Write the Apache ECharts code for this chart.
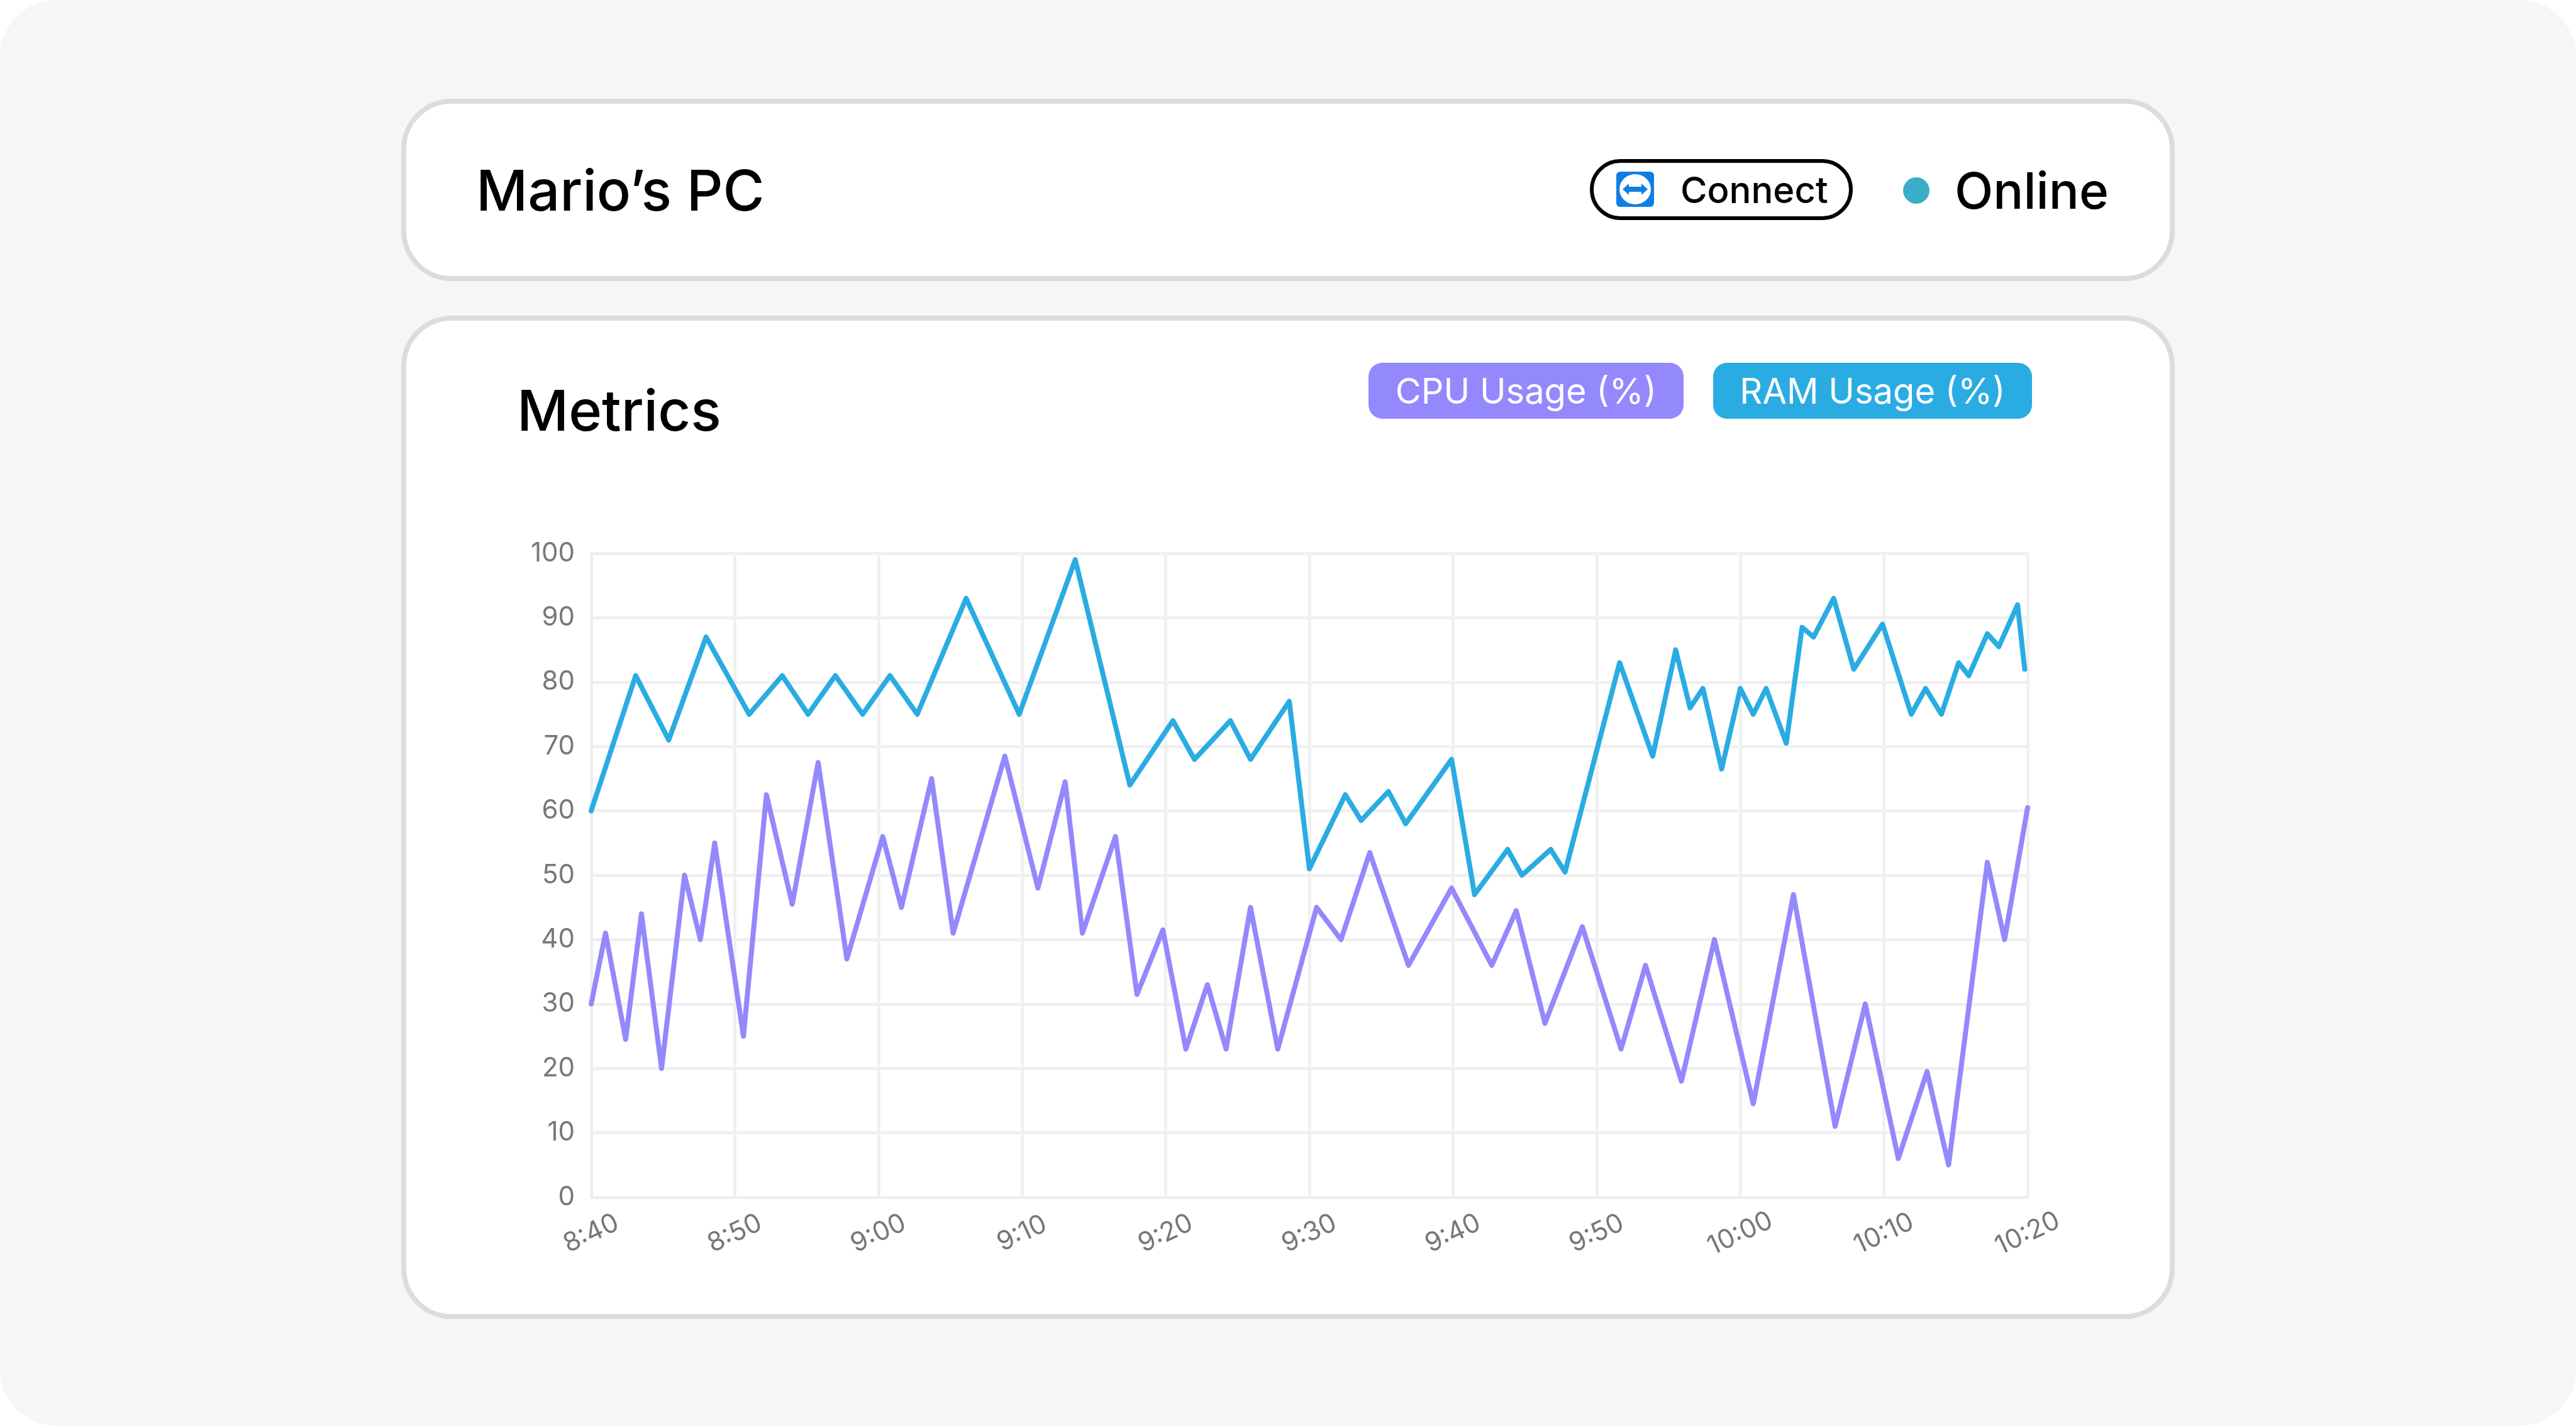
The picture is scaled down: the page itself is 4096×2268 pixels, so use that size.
<!DOCTYPE html>
<html><head><meta charset="utf-8">
<script src="https://cdn.jsdelivr.net/npm/echarts@6/dist/echarts.min.js"></script>
<style>
html,body{margin:0;padding:0;width:4096px;height:2268px;background:#fff;font-family:Inter,"Noto Sans",sans-serif;overflow:hidden}
#bg{position:absolute;left:0;top:0;width:4096px;height:2268px;background:#f6f6f6;border-radius:90px}
.card{position:absolute;background:#fff;border:8px solid #dcdcdc;border-radius:80px;box-sizing:border-box}
.t{position:absolute;white-space:nowrap;color:#000}
#chart{position:absolute;left:0;top:0;width:4096px;height:2268px}
.pill{position:absolute;border-radius:22px;color:#fff;font-size:56px;display:flex;align-items:center;justify-content:center}
</style></head><body>
<div id="bg"></div>
<div class="card" style="left:638px;top:157px;width:2820px;height:290px"></div>
<div class="card" style="left:638px;top:502px;width:2820px;height:1596px"></div>
<div class="t" style="left:757px;top:248px;font-size:90px;font-weight:500">Mario’s PC</div>
<div style="position:absolute;left:2528px;top:253px;width:418px;height:97px;border:6px solid #000;border-radius:50px;box-sizing:border-box"></div>
<svg style="position:absolute;left:2570px;top:273px" width="60" height="56" viewBox="0 0 60 56">
<rect x="0" y="0" width="60" height="56" rx="6" fill="#0e7fe0"/>
<ellipse cx="30" cy="28" rx="25" ry="24" fill="#fff"/>
<path d="M10 28 L20 19 L20 24 L40 24 L40 19 L50 28 L40 37 L40 32 L20 32 L20 37 Z" fill="#0e7fe0"/>
</svg>
<div class="t" style="left:2672px;top:267px;font-size:58px;font-weight:500">Connect</div>
<div style="position:absolute;left:3026px;top:282px;width:42px;height:42px;border-radius:50%;background:#3aaec8"></div>
<div class="t" style="left:3108px;top:254px;font-size:80px;font-weight:500">Online</div>
<div class="t" style="left:822px;top:598px;font-size:90px;font-weight:500">Metrics</div>
<div class="pill" style="left:2176px;top:577px;width:501px;height:89px;background:#9488fd">CPU Usage (%)</div>
<div class="pill" style="left:2724px;top:577px;width:507px;height:89px;background:#2aace2">RAM Usage (%)</div>
<div id="chart"></div>
<script>
const tickLabels = ["8:40","8:50","9:00","9:10","9:20","9:30","9:40","9:50","10:00","10:10","10:20"];
const ramTimes = [0,3.1,5.4,8,11,13.3,15.1,17,18.9,20.8,22.7,26.1,29.8,33.7,37.5,40.5,42,44.5,45.9,48.6,50,52.5,53.6,55.5,56.7,59.9,61.5,63.8,64.8,66.8,67.8,71.6,73.9,75.5,76.5,77.4,78.7,80,80.9,81.8,83.2,84.3,85.1,86.5,87.9,89.9,91.9,92.9,94,95.2,95.9,97.2,98,99.3,99.8];
const ramValues = [60,81,71,87,75,81,75,81,75,81,75,93,75,99,64,74,68,74,68,77,51,62.5,58.5,63,58,68,47,54,50,54,50.5,83,68.5,85,76,79,66.5,79,75,79,70.5,88.5,87,93,82,89,75,79,75,83,81,87.5,85.5,92,82];
const cpuTimes = [0,1,2.4,3.5,4.9,6.5,7.6,8.6,10.6,12.2,14,15.8,17.8,20.3,21.6,23.7,25.2,28.8,31.1,33,34.2,36.5,38,39.8,41.4,42.9,44.2,45.9,47.8,50.5,52.2,54.2,56.9,59.9,62.7,64.4,66.4,69,71.7,73.4,75.9,78.2,80.9,83.7,86.6,88.7,91,93,94.5,97.2,98.4,100];
const cpuValues = [30,41,24.5,44,20,50,40,55,25,62.5,45.5,67.5,37,56,45,65,41,68.5,48,64.5,41,56,31.5,41.5,23,33,23,45,23,45,40,53.5,36,48,36,44.5,27,42,23,36,18,40,14.5,47,11,30,6,19.5,5,52,40,60.5];
const pair = (t, v) => t.map((x, i) => [x, v[i]]);
const chart = echarts.init(document.getElementById('chart'));
chart.setOption({
  animation:false,
  grid:{left:940,right:872,top:880,bottom:364,show:false},
  xAxis:{type:'value',min:0,max:100,interval:10,
    axisLine:{lineStyle:{color:'#eeeeee',width:5}},axisTick:{show:false},
    splitLine:{show:true,lineStyle:{color:'#f0f0f0',width:5}},
    axisLabel:{rotate:25,align:'center',verticalAlign:'middle',color:'#777',fontSize:42,fontFamily:'Inter',margin:58,
      formatter:(v)=>tickLabels[Math.round(v/10)]}},
  yAxis:{type:'value',min:0,max:100,interval:10,
    axisLine:{show:true,lineStyle:{color:'#eeeeee',width:5}},axisTick:{show:false},
    splitLine:{lineStyle:{color:'#f0f0f0',width:5}},
    axisLabel:{color:'#777',fontSize:42,fontFamily:'Inter',margin:26}},
  series:[
    {name:'RAM Usage (%)',type:'line',data:pair(ramTimes,ramValues),showSymbol:false,
     lineStyle:{color:'#2aace2',width:8,join:'round',cap:'round'},itemStyle:{color:'#2aace2'}},
    {name:'CPU Usage (%)',type:'line',data:pair(cpuTimes,cpuValues),showSymbol:false,
     lineStyle:{color:'#9488fd',width:8,join:'round',cap:'round'},itemStyle:{color:'#9488fd'}}
  ]
});
</script>
</body></html>
